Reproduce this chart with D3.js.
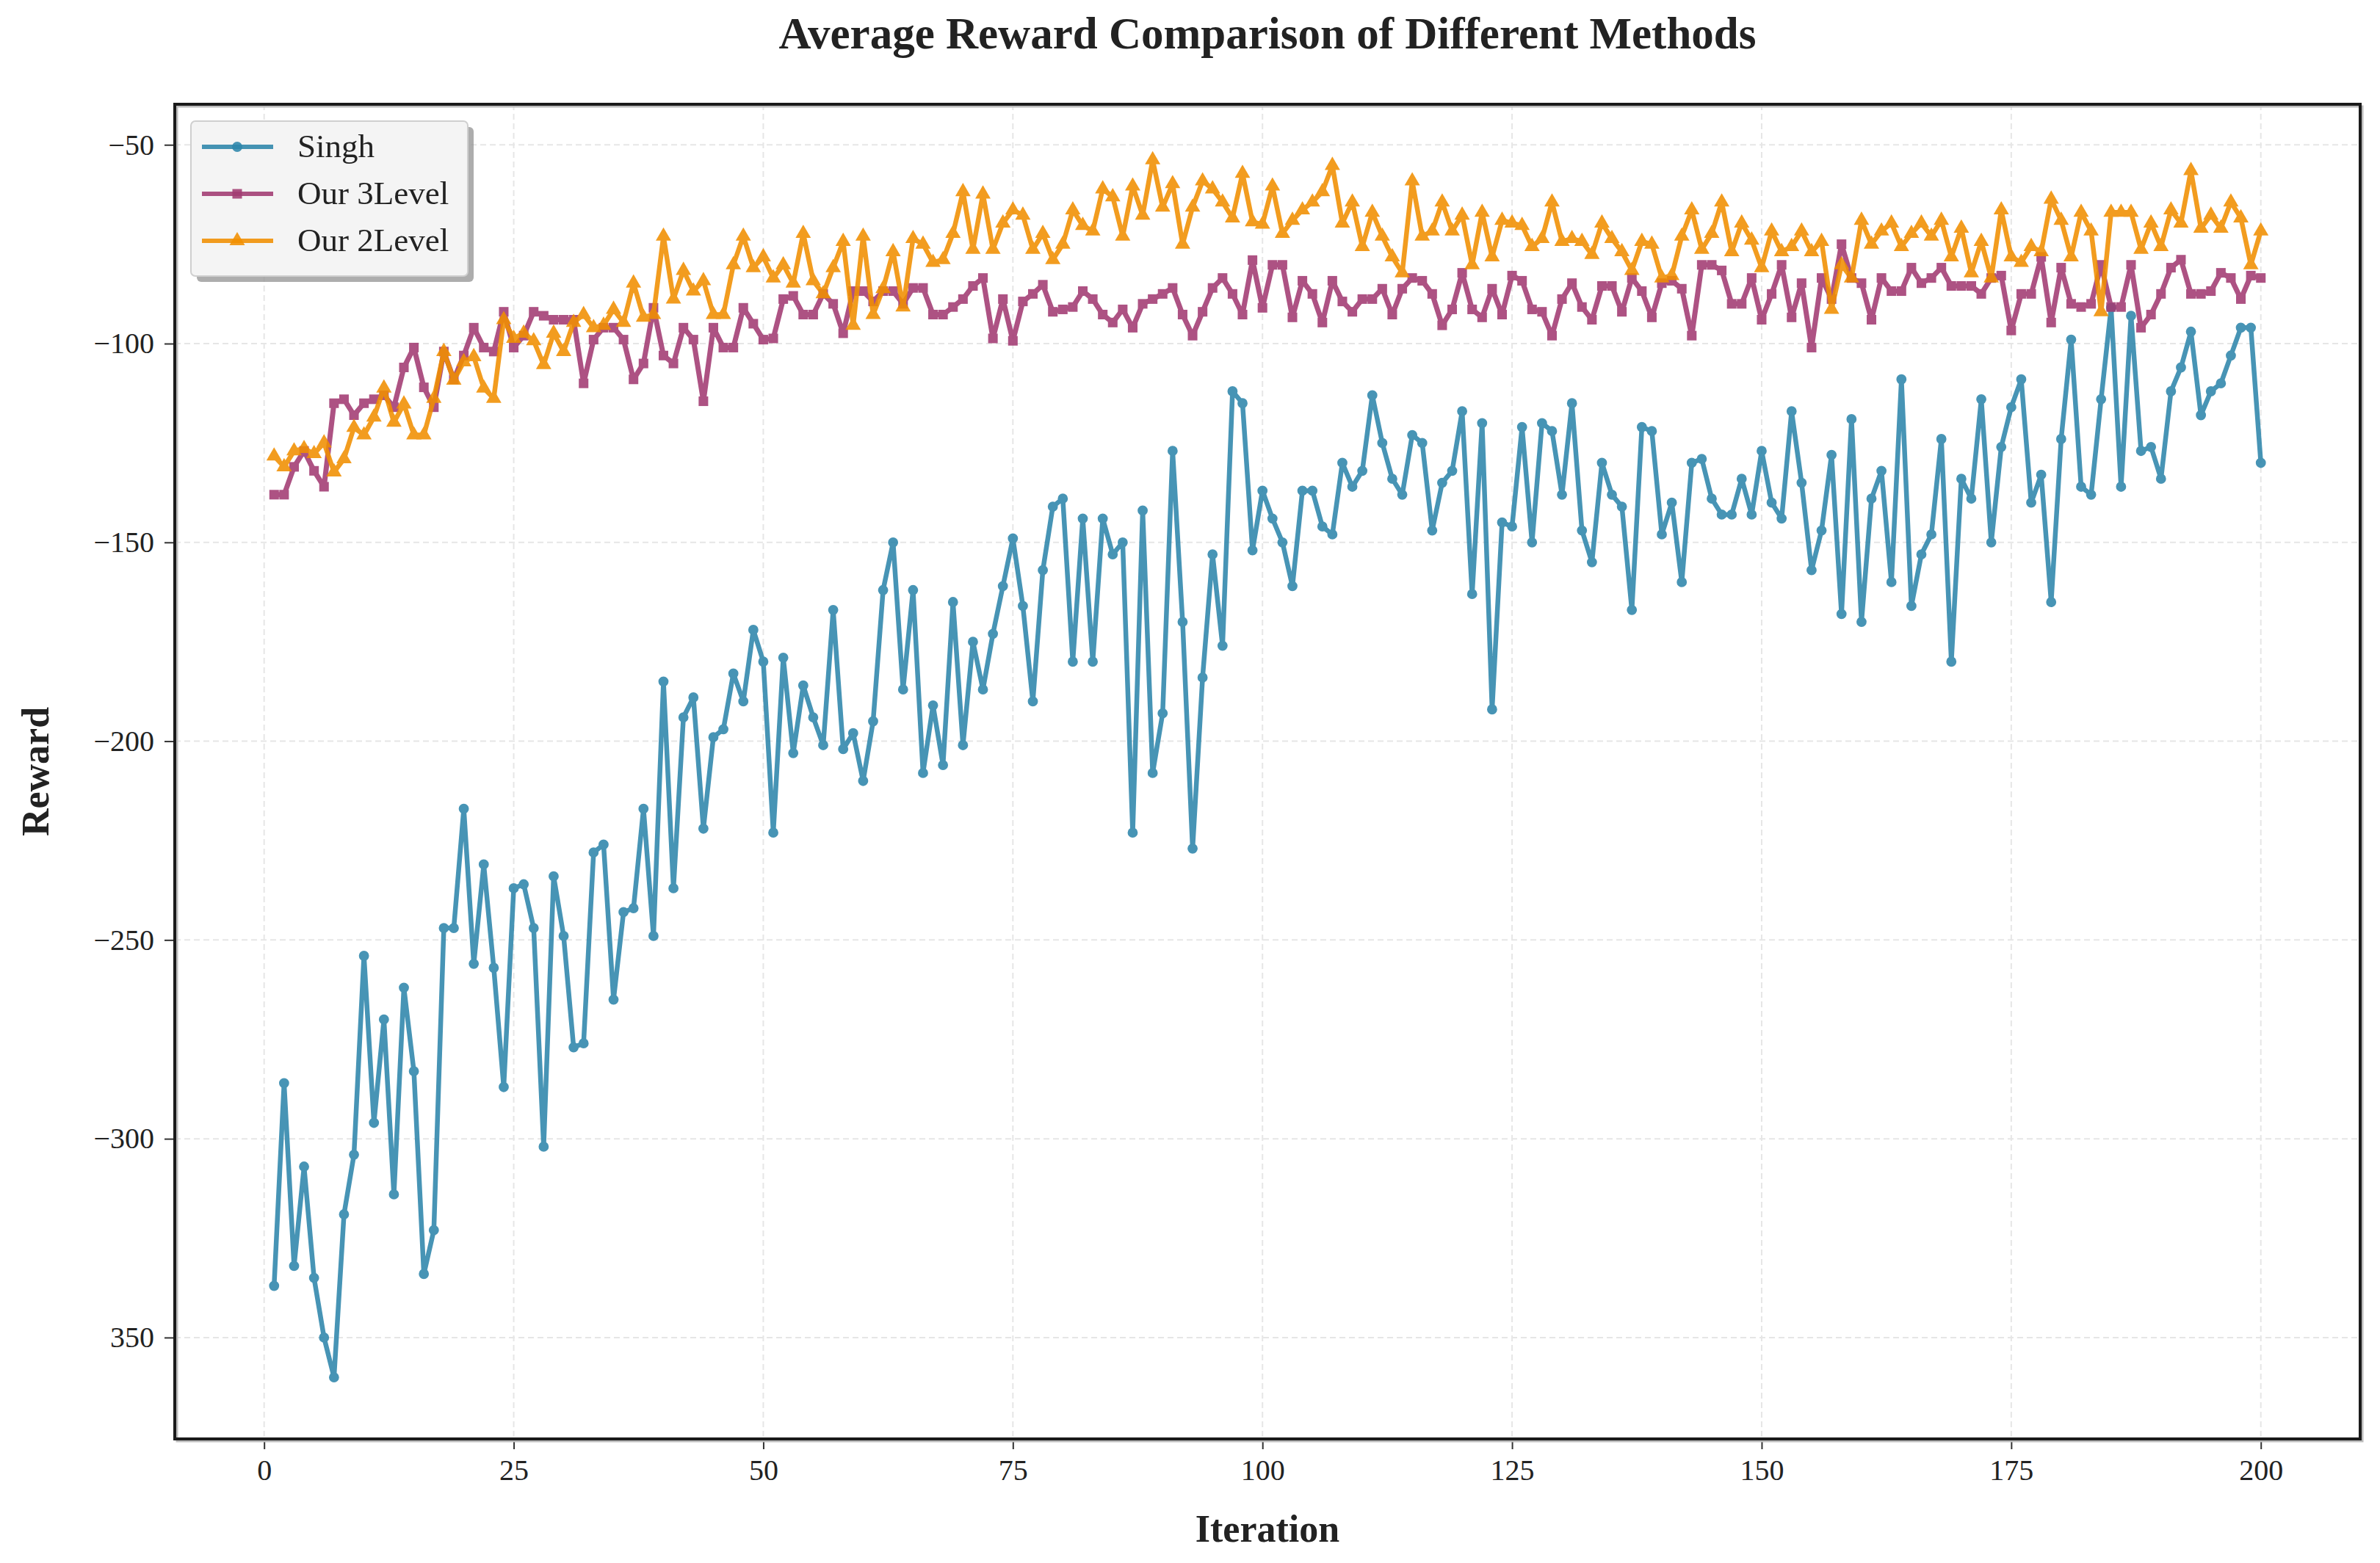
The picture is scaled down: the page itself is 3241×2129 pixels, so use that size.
<!DOCTYPE html>
<html><head><meta charset="utf-8">
<script src="https://cdn.jsdelivr.net/npm/d3@7"></script>
<style>html,body{margin:0;padding:0;background:#fff;}svg{display:block;font-family:"Liberation Serif","Times New Roman",serif;}</style>
</head><body>
<svg id="chart" width="3241" height="2129"></svg>
<script>
const iterations = d3.range(1, 201);
const seriesNames = ["Singh", "Our 3Level", "Our 2Level"];
const singh = [
-337,-286,-332,-307,-335,-350,-360,-319,-304,-254,
-296,-270,-314,-262,-283,-334,-323,-247,-247,-217,
-256,-231,-257,-287,-237,-236,-247,-302,-234,-249,
-277,-276,-228,-226,-265,-243,-242,-217,-249,-185,
-237,-194,-189,-222,-199,-197,-183,-190,-172,-180,
-223,-179,-203,-186,-194,-201,-167,-202,-198,-210,
-195,-162,-150,-187,-162,-208,-191,-206,-165,-201,
-175,-187,-173,-161,-149,-166,-190,-157,-141,-139,
-180,-144,-180,-144,-153,-150,-223,-142,-208,-193,
-127,-170,-227,-184,-153,-176,-112,-115,-152,-137,
-144,-150,-161,-137,-137,-146,-148,-130,-136,-132,
-113,-125,-134,-138,-123,-125,-147,-135,-132,-117,
-163,-120,-192,-145,-146,-121,-150,-120,-122,-138,
-115,-147,-155,-130,-138,-141,-167,-121,-122,-148,
-140,-160,-130,-129,-139,-143,-143,-134,-143,-127,
-140,-144,-117,-135,-157,-147,-128,-168,-119,-170,
-139,-132,-160,-109,-166,-153,-148,-124,-180,-134,
-139,-114,-150,-126,-116,-109,-140,-133,-165,-124,
-99,-136,-138,-114,-91,-136,-93,-127,-126,-134,
-112,-106,-97,-118,-112,-110,-103,-96,-96,-130];
const our3Level = [
-138,-138,-131,-127,-132,-136,-115,-114,-118,-115,
-114,-113,-116,-106,-101,-111,-116,-102,-109,-103,
-96,-101,-102,-92,-101,-98,-92,-93,-94,-94,
-94,-110,-99,-96,-96,-99,-109,-105,-91,-103,
-105,-96,-99,-114.5,-96,-101,-101,-91,-95,-99,
-98.7,-88.8,-88,-92.7,-92.7,-87.5,-90,-97.4,-86.8,-86.8,
-89.4,-86.8,-86.8,-90,-86,-86,-92.7,-92.7,-90.8,-88.8,
-85.5,-83.5,-98.7,-88.8,-99.3,-89.4,-87.5,-85.2,-92,-91.4,
-90.8,-86.8,-88.8,-92.7,-94.7,-91.4,-96,-90,-88.8,-87.5,
-86,-92.7,-98,-92,-86,-83.5,-87.5,-92.7,-79,-91,
-80.2,-80.2,-93.4,-84.2,-87.5,-94.7,-84.2,-89.4,-92,-88.8,
-88.8,-86.2,-92.7,-86.2,-83.5,-84.2,-87.5,-95.4,-91.4,-82.2,
-91.4,-93.4,-86.2,-92.7,-82.9,-84.2,-91.4,-92,-98,-88.8,
-84.8,-90.8,-94,-85.5,-85.5,-92,-83.5,-86.8,-93.4,-84.8,
-84.2,-86.2,-98,-80.2,-80.2,-81.6,-90,-90,-83.5,-94,
-87.5,-80.2,-93.4,-84.8,-101,-83.5,-88.8,-75,-83.5,-84.8,
-94,-83.5,-86.8,-86.8,-80.9,-84.8,-83.5,-80.9,-85.5,-85.5,
-85.5,-87.5,-83.5,-82.9,-96.7,-87.5,-87.5,-78.2,-94.7,-80.9,
-90,-90.8,-90,-80.2,-90.8,-90.8,-80.2,-96,-92.7,-87.5,
-80.9,-78.9,-87.5,-87.5,-86.8,-82.2,-83.5,-88.8,-82.9,-83.5];
const our2Level = [
-128.3,-131,-127,-126.4,-127.7,-125,-132.3,-129,-121.1,-123,
-118.5,-111.2,-119.8,-115.2,-123,-123,-113.8,-102,-109.2,-104.6,
-103.3,-111.2,-113.8,-94,-98.7,-97.4,-99.3,-105.3,-97.4,-102,
-94.7,-92.7,-96,-95.4,-91.4,-94.7,-84.8,-93.4,-92.7,-73,
-88.8,-81.6,-86.8,-84.2,-92.7,-92.7,-80.2,-73,-80.9,-78.2,
-83.5,-80.2,-84.8,-72.3,-84.2,-87.5,-80.9,-74.3,-95.4,-73,
-92.7,-86.2,-76.9,-90.8,-73.6,-75,-79.6,-78.9,-72.3,-61.8,
-76.3,-62.4,-76.3,-69.7,-66.4,-67.7,-76.3,-72.3,-78.9,-75,
-66.4,-70.3,-71.7,-61.1,-63.1,-73,-60.4,-67.7,-53.8,-65.7,
-59.8,-75,-65.7,-59.1,-61.1,-64.4,-68.4,-57.2,-69.4,-70,
-60.4,-72.3,-69,-66.4,-64.4,-61.8,-55.2,-69.7,-64.4,-75.6,
-67,-73,-78.2,-82.2,-59.1,-73,-71.7,-64.4,-71.7,-67.7,
-80.2,-67,-78.2,-69,-69.7,-70.3,-75.6,-73.6,-64.4,-74.3,
-73.6,-74.3,-77.6,-69.7,-73.6,-76.9,-81.6,-74.3,-75,-83.5,
-82.9,-73,-66.4,-76.3,-72.3,-64.4,-76.9,-69.7,-74,-80.9,
-71.7,-76.9,-75.6,-71.7,-76.9,-74.3,-91.4,-80.2,-83.5,-69,
-75,-71.7,-69.7,-75.6,-72.3,-69.7,-73,-69,-78.2,-71,
-82.2,-74.3,-83.5,-66.4,-78.2,-79.6,-75.6,-76.9,-63.7,-69,
-78.2,-67,-71.7,-92,-67,-67,-67,-76.3,-69.7,-75.6,
-66.4,-69.7,-56.5,-71,-67.7,-71,-64.4,-68.4,-80.2,-71.7];
const xTicks = [0, 25, 50, 75, 100, 125, 150, 175, 200];
const yTicks = [-50, -100, -150, -200, -250, -300, -350];
const yTickLabels = ["\u221250", "\u2212100", "\u2212150", "\u2212200", "\u2212250", "\u2212300", "350"];

const colors = ["#2E86AB", "#A23B72", "#F18F01"];
const allSeries = [singh, our3Level, our2Level];

const svg = d3.select("#chart");
const L = 238, R = 3214, T = 142, B = 1960;
const x = d3.scaleLinear().domain([-8.95, 209.95]).range([L, R]);
const y = d3.scaleLinear().domain([-375.5, -39.8]).range([B, T]);

svg.append("rect").attr("width", 3241).attr("height", 2129).attr("fill", "#fff");

// grid
const grid = svg.append("g");
grid.selectAll("line.gx").data(xTicks).enter().append("line")
  .attr("x1", d => x(d)).attr("x2", d => x(d)).attr("y1", T).attr("y2", B)
  .attr("stroke", "#e6e6e6").attr("stroke-width", 2).attr("stroke-dasharray", "8,5");
grid.selectAll("line.gy").data(yTicks).enter().append("line")
  .attr("y1", d => y(d)).attr("y2", d => y(d)).attr("x1", L).attr("x2", R)
  .attr("stroke", "#e6e6e6").attr("stroke-width", 2).attr("stroke-dasharray", "8,5");

// axes
const xAxis = d3.axisBottom(x).tickValues(xTicks).tickSize(14).tickPadding(14).tickFormat(d3.format("d"));
const yAxis = d3.axisLeft(y).tickValues(yTicks).tickSize(14).tickPadding(14).tickFormat((d, i) => yTickLabels[i]);
const gx = svg.append("g").attr("transform", `translate(0,${B})`).call(xAxis);
const gy = svg.append("g").attr("transform", `translate(${L},0)`).call(yAxis);
[gx, gy].forEach(g => {
  g.select(".domain").remove();
  g.selectAll(".tick line").attr("stroke", "#333").attr("stroke-width", 2);
  g.selectAll(".tick text").attr("fill", "#222").style("font-size", "40px")
   .style("font-family", '"Liberation Serif","Times New Roman",serif');
});

// series
const clip = svg.append("defs").append("clipPath").attr("id", "clip");
clip.append("rect").attr("x", L).attr("y", T).attr("width", R - L).attr("height", B - T);
const plot = svg.append("g").attr("clip-path", "url(#clip)");
const line = d3.line().x((d, i) => x(iterations[i])).y(d => y(d));
const symbols = [d3.symbolCircle, d3.symbolSquare, d3.symbolTriangle];
const symSizes = [150, 170, 190];
const lineW = [6.5, 7, 6.5];
allSeries.forEach((s, k) => {
  const g = plot.append("g").attr("opacity", 0.88);
  g.append("path").datum(s).attr("d", line).attr("fill", "none")
    .attr("stroke", colors[k]).attr("stroke-width", lineW[k]).attr("stroke-linejoin", "round");
  g.selectAll("path.m").data(s).enter().append("path")
    .attr("transform", (d, i) => `translate(${x(iterations[i])},${y(d)})`)
    .attr("d", d3.symbol().type(symbols[k]).size(symSizes[k]))
    .attr("fill", colors[k]);
});

// frame
svg.append("rect").attr("x", L + 3).attr("y", T + 3).attr("width", R - L).attr("height", B - T)
  .attr("fill", "none").attr("stroke", "#bbb").attr("stroke-width", 3);
svg.append("rect").attr("x", L).attr("y", T).attr("width", R - L).attr("height", B - T)
  .attr("fill", "none").attr("stroke", "#1a1a1a").attr("stroke-width", 4);

// legend
const lg = svg.append("g");
lg.append("rect").attr("x", 268).attr("y", 173).attr("width", 377).attr("height", 211).attr("rx", 6)
  .attr("fill", "#999").attr("opacity", 0.8);
lg.append("rect").attr("x", 260).attr("y", 165).attr("width", 377).attr("height", 211).attr("rx", 6)
  .attr("fill", "#f4f4f4").attr("stroke", "#cfcfcf").attr("stroke-width", 2);
seriesNames.forEach((name, k) => {
  const yy = 200 + k * 64;
  lg.append("line").attr("x1", 275).attr("x2", 372).attr("y1", yy).attr("y2", yy)
    .attr("stroke", colors[k]).attr("stroke-width", 6).attr("opacity", 0.88);
  lg.append("path").attr("transform", `translate(323,${yy})`).attr("opacity", 0.88)
    .attr("d", d3.symbol().type(symbols[k]).size(symSizes[k])).attr("fill", colors[k]);
  lg.append("text").attr("x", 405).attr("y", yy + 14).text(name)
    .style("font-size", "45px").attr("fill", "#222");
});

// titles
svg.append("text").attr("x", (L + R) / 2).attr("y", 66).attr("text-anchor", "middle")
  .style("font-size", "61px").style("font-weight", "bold").attr("fill", "#222")
  .text("Average Reward Comparison of Different Methods");
svg.append("text").attr("x", (L + R) / 2).attr("y", 2100).attr("text-anchor", "middle")
  .style("font-size", "52px").style("font-weight", "bold").attr("fill", "#222").text("Iteration");
svg.append("text").attr("transform", `translate(66,${(T + B) / 2}) rotate(-90)`).attr("text-anchor", "middle")
  .style("font-size", "52px").style("font-weight", "bold").attr("fill", "#222").text("Reward");
</script>
</body></html>
